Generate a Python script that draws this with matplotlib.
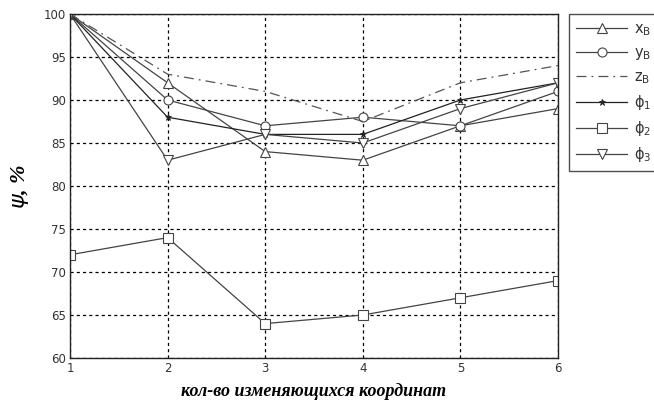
import matplotlib
matplotlib.use("Agg")
import matplotlib.pyplot as plt

# Number of changing coordinates
n_coords = [1, 2, 3, 4, 5, 6]

# Psi, % for each parameter
psi_xB = [100, 92, 84, 83, 87, 89]
psi_yB = [100, 90, 87, 88, 87, 91]
psi_zB = [100, 93, 91, 87.5, 92, 94]
psi_phi1 = [100, 88, 86, 86, 90, 92]
psi_phi2 = [72, 74, 64, 65, 67, 69]
psi_phi3 = [100, 83, 86, 85, 89, 92]

x_ticks = [1, 2, 3, 4, 5, 6]
y_ticks = [60, 65, 70, 75, 80, 85, 90, 95, 100]

W, H = 654, 407
fig = plt.figure(figsize=(W / 100, H / 100), dpi=100)
ax = fig.add_axes([70 / W, 1 - 358 / H, (558 - 70) / W, (358 - 14) / H])

ms = 6.5
common = dict(markerfacecolor="white", markersize=ms, markeredgewidth=0.8)
ax.plot(n_coords, psi_xB, color="#444444", lw=0.9, marker="^", label=r"$\mathregular{x_B}$", **common)
ax.plot(n_coords, psi_yB, color="#444444", lw=0.9, marker="o", label=r"$\mathregular{y_B}$", **common)
ax.plot(n_coords, psi_zB, color="#555555", lw=0.9, dashes=(8, 4, 1.5, 4), label=r"$\mathregular{z_B}$")
ax.plot(n_coords, psi_phi1, color="#222222", lw=0.9, marker="*", markersize=5,
        markeredgewidth=0.6, markerfacecolor="#222222", label=r"$\mathregular{\phi_1}$")
ax.plot(n_coords, psi_phi2, color="#444444", lw=0.9, marker="s", label=r"$\mathregular{\phi_2}$", **common)
ax.plot(n_coords, psi_phi3, color="#444444", lw=0.9, marker="v", label=r"$\mathregular{\phi_3}$", **common)

ax.set_xlim(1, 6)
ax.set_ylim(60, 100)
ax.set_xticks(x_ticks)
ax.set_yticks(y_ticks)
ax.grid(True, color="black", linestyle=(0, (2.5, 2.5)), linewidth=0.9)
ax.tick_params(direction="in", length=0, labelsize=8.5, labelcolor="#333333", pad=3)
for s in ax.spines.values():
    s.set_linewidth(1.0)
    s.set_color("#222222")

ax.set_ylabel(r"$\psi$, %", fontsize=16, family="Liberation Serif",
              style="italic", fontweight="bold", labelpad=9)
ax.set_xlabel("кол-во изменяющихся координат", fontsize=13, family="Liberation Serif",
              style="italic", fontweight="bold", labelpad=6)

leg = fig.legend(loc="upper left", bbox_to_anchor=(569 / W, 1 - 14 / H),
                 bbox_transform=fig.transFigure, frameon=True, fancybox=False,
                 edgecolor="#222222", fontsize=10.5, handlelength=3.5,
                 handletextpad=0.45, labelspacing=0.48, borderpad=0.5,
                 borderaxespad=0)
leg.get_frame().set_linewidth(1.0)
for t in leg.get_texts():
    t.set_color("#333333")

fig.savefig("out.png", dpi=100)
